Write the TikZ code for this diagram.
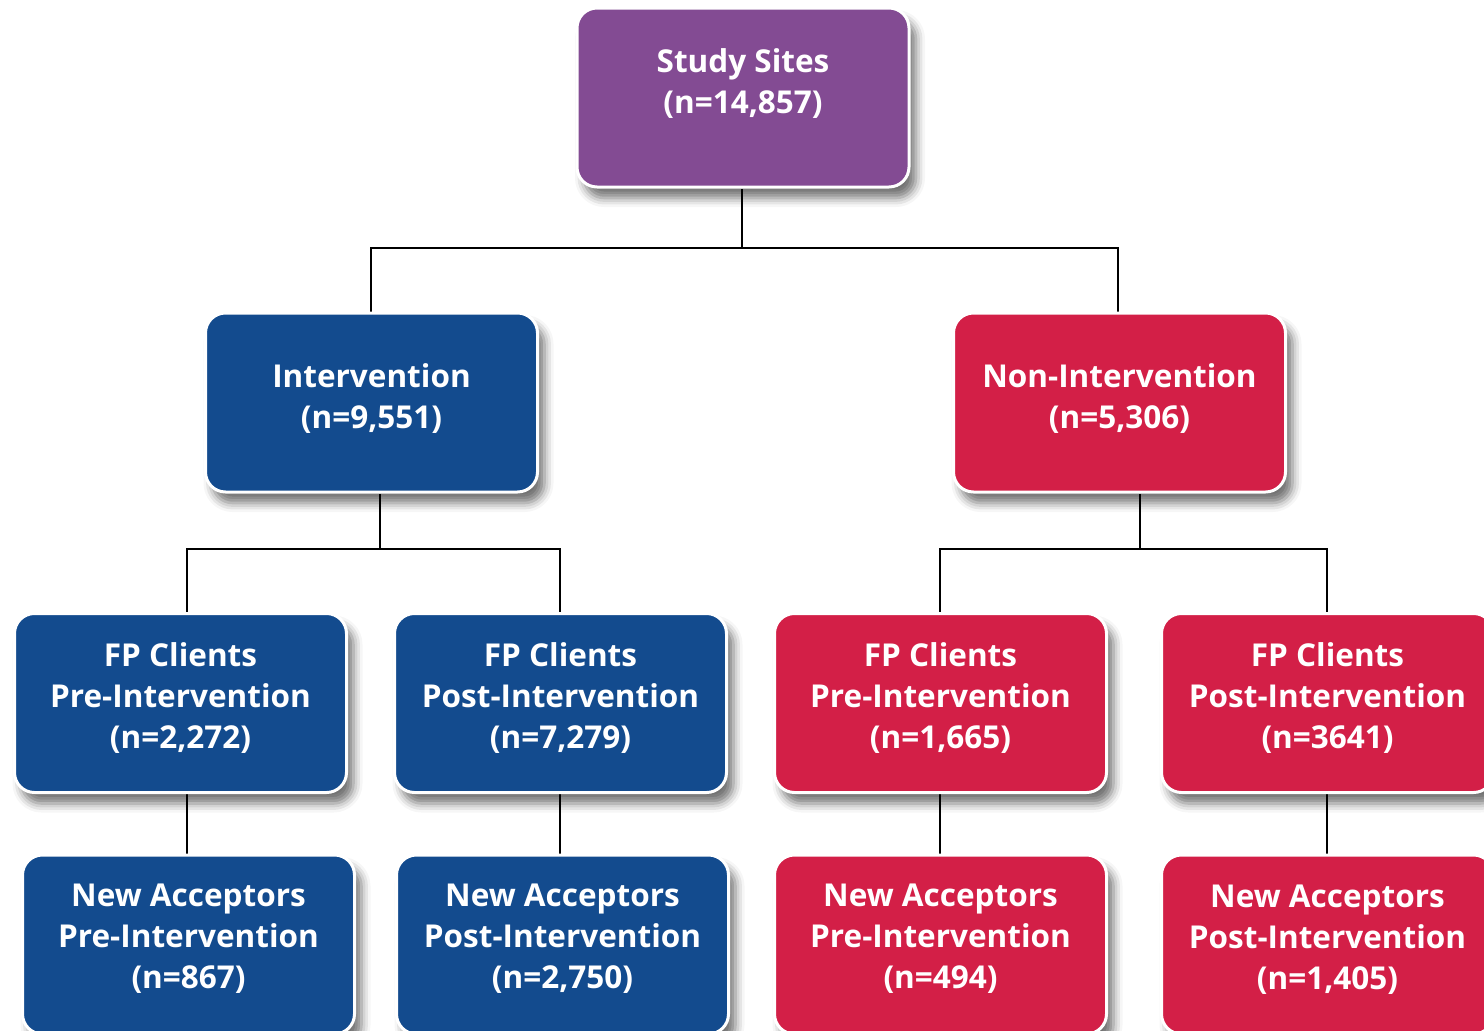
\documentclass[tikz,border=0pt]{standalone}
\usepackage{fontspec}
\setmainfont{Open Sans}
\usetikzlibrary{shadows.blur,backgrounds}
\definecolor{purp}{HTML}{834B93}
\definecolor{iblue}{HTML}{134B8E}
\definecolor{nred}{HTML}{D31F47}
\tikzset{
  box/.style={rectangle, rounded corners=20pt, draw=white, line width=3pt,
    minimum width=332pt, minimum height=179pt, inner sep=0pt,
    blur shadow={shadow xshift=7pt, shadow yshift=-11pt, shadow blur radius=9pt, shadow opacity=55}},
  txt/.style={text=white, align=center, inner sep=0pt,
    font=\fontsize{31.5}{41}\selectfont\bfseries},
  conn/.style={draw=black, line width=2.5pt}
}
\begin{document}
\begin{tikzpicture}[x=1pt,y=-1pt]
\useasboundingbox (0,0) rectangle (1484,1031);
\clip (0,0) rectangle (1484,1031);
% boxes
\node[box, fill=purp] (study) at (743,97.5) {};
\node[box, fill=iblue] (int) at (371.5,402.5) {};
\node[box, fill=nred] (non) at (1119.5,402.5) {};
\node[box, fill=iblue] (fp1) at (180.5,703) {};
\node[box, fill=iblue] (fp2) at (560.5,703) {};
\node[box, fill=nred] (fp3) at (940.5,703) {};
\node[box, fill=nred] (fp4) at (1327.5,703) {};
\node[box, fill=iblue] (na1) at (188.5,944.5) {};
\node[box, fill=iblue] (na2) at (562.5,944.5) {};
\node[box, fill=nred] (na3) at (940.5,944.5) {};
\node[box, fill=nred] (na4) at (1327.5,944.5) {};
% texts
\node[txt] (tstudy) at ([yshift=14pt]study.center) {Study Sites\\(n=14,857)};
\node[txt] (tint) at ([yshift=4pt]int.center) {Intervention\\(n=9,551)};
\node[txt] (tnon) at ([yshift=4pt]non.center) {Non-Intervention\\(n=5,306)};
\node[txt] (tfp1) at ([yshift=5pt]fp1.center) {FP Clients\\Pre-Intervention\\(n=2,272)};
\node[txt] (tfp2) at ([yshift=5pt]fp2.center) {FP Clients\\Post-Intervention\\(n=7,279)};
\node[txt] (tfp3) at ([yshift=5pt]fp3.center) {FP Clients\\Pre-Intervention\\(n=1,665)};
\node[txt] (tfp4) at ([yshift=5pt]fp4.center) {FP Clients\\Post-Intervention\\(n=3641)};
\node[txt] (tna1) at ([yshift=6pt]na1.center) {New Acceptors\\Pre-Intervention\\(n=867)};
\node[txt] (tna2) at ([yshift=6pt]na2.center) {New Acceptors\\Post-Intervention\\(n=2,750)};
\node[txt] (tna3) at ([yshift=6pt]na3.center) {New Acceptors\\Pre-Intervention\\(n=494)};
\node[txt] (tna4) at ([yshift=5pt]na4.center) {New Acceptors\\Post-Intervention\\(n=1,405)};
% junctions
\coordinate (j0) at (742,248);
\coordinate (ja) at (380,549);
\coordinate (jb) at (1140,549);
\coordinate (a1) at (187,549);
\coordinate (a2) at (560,549);
\coordinate (b1) at (940,549);
\coordinate (b2) at (1327,549);
\begin{scope}[on background layer]
\draw[conn] (study.south -| j0) -- (j0);
\draw[conn] (int.north -| 371,0) |- (j0) -| (non.north -| 1118,0);
\draw[conn] (int.south -| ja) -- (ja);
\draw[conn] (fp1.north -| a1) |- (a2) -- (fp2.north -| a2);
\draw[conn] (non.south -| jb) -- (jb);
\draw[conn] (fp3.north -| b1) |- (b2) -- (fp4.north -| b2);
\draw[conn] (fp1.south -| a1) -- (na1.north -| a1);
\draw[conn] (fp2.south -| a2) -- (na2.north -| a2);
\draw[conn] (fp3.south -| b1) -- (na3.north -| b1);
\draw[conn] (fp4.south -| b2) -- (na4.north -| b2);
\end{scope}
\end{tikzpicture}
\end{document}
